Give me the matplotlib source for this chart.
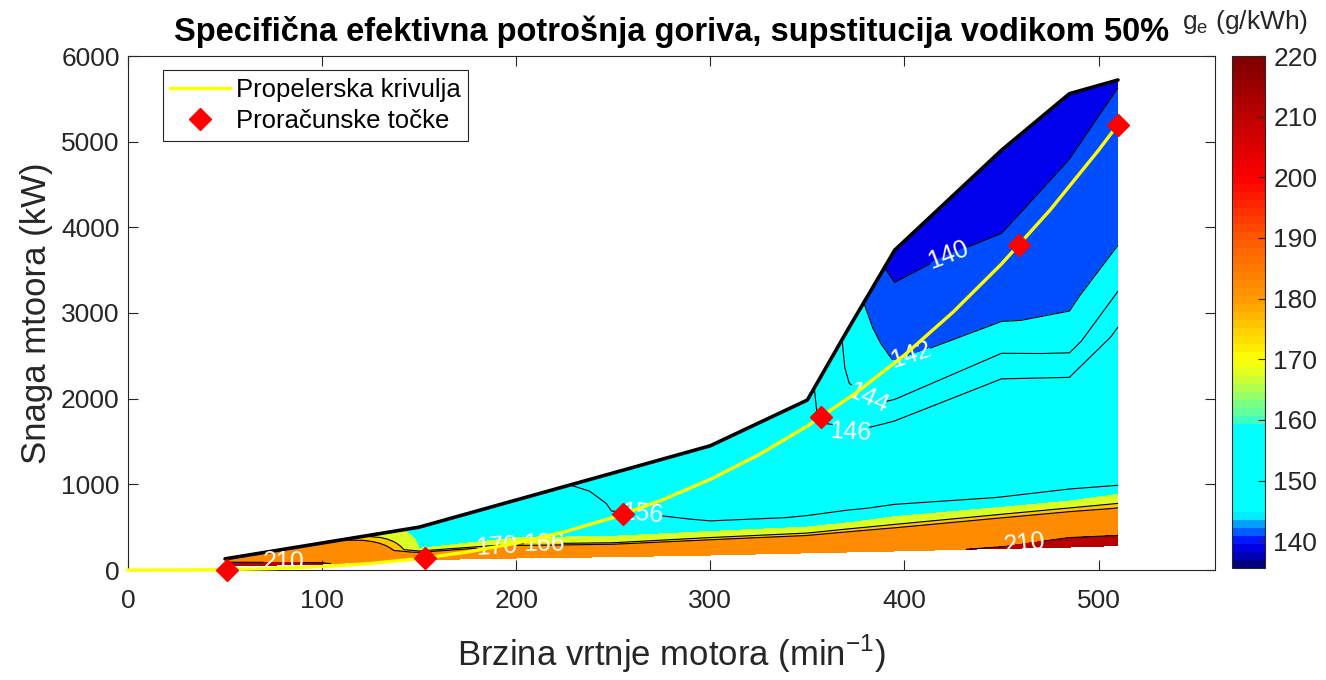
import numpy as np
import matplotlib
matplotlib.use("Agg")
import matplotlib.pyplot as plt
from matplotlib.colors import LinearSegmentedColormap, Normalize
from matplotlib.cm import ScalarMappable
from matplotlib.lines import Line2D

plt.rcParams['font.family'] = ['Liberation Sans', 'DejaVu Sans']
plt.rcParams['mathtext.fontset'] = 'custom'
plt.rcParams['mathtext.rm'] = 'Liberation Sans'

# ---------------- data ----------------
# engine speed columns of the map (min^-1)
n_cols = [50, 100, 150, 200, 250, 300, 350, 370, 395, 450, 485, 510]
# upper (max power) and lower limits of the map (kW)
p_max = [130, 315, 500, 817, 1133, 1450, 1984, 2773, 3734, 4900, 5560, 5720]
p_min = [45, 70, 120, 140, 155, 175, 200, 210, 222, 252, 268, 285]
# relative load rows between the lower and upper limit
load_frac = [0, .02, .04, .06, .08, .10, .13, .17, .25, .35, .45, .55, .65, .75, .85, 1.0]
# specific fuel consumption ge (g/kWh); rows = load_frac, columns = n_cols
ge = [
    [218.0, 211.0,  200.0, 203.0, 204.0,  205.0,  206.0,  207.0, 206.0,  212.0,  213.0,  214.0],
    [217.7, 210.7,  197.3, 199.9, 199.4,  199.9,  199.4,  198.8, 195.9,  202.0,  210.5,  211.0],
    [217.4, 210.35, 194.6, 196.8, 194.8,  194.8,  193.0,  190.4, 186.8,  190.6,  197.8,  200.4],
    [217.1, 209.9,  192.0, 193.8, 190.2,  189.7,  186.5,  182.1, 177.5,  179.2,  182.9,  185.4],
    [216.8, 209.3,  189.3, 190.7, 185.7,  184.6,  179.9,  173.9, 168.7,  168.2,  168.6,  170.4],
    [216.5, 208.5,  186.6, 187.6, 181.1,  179.5,  173.5,  167.0, 162.25, 160.5,  160.2,  162.1],
    [216.0, 207.3,  182.6, 183.0, 174.2,  171.85, 165.9,  160.2, 157.5,  155.9,  155.7,  155.9],
    [215.4, 205.7,  177.2, 176.8, 165.3,  164.0,  159.9,  156.7, 155.1,  154.6,  154.1,  154.8],
    [214.2, 202.5,  167.3, 165.1, 159.6,  157.0,  155.7,  153.9, 152.3,  151.9,  150.9,  152.4],
    [212.7, 198.6,  159.9, 159.9, 158.2,  155.4,  153.8,  151.1, 148.8,  148.5,  146.9,  149.5],
    [211.2, 194.6,  159.5, 159.4, 156.9,  154.4,  151.8,  148.2, 145.4,  145.2,  143.2,  146.5],
    [209.4, 190.6,  159.1, 159.0, 155.94, 153.45, 149.9,  145.8, 142.8,  142.2,  141.5,  143.9],
    [206.4, 186.6,  158.7, 158.6, 155.8,  152.5,  147.9,  145.0, 141.8,  141.2,  141.0,  141.9],
    [203.4, 182.7,  158.2, 158.1, 155.6,  151.5,  146.8,  144.2, 141.1,  140.35, 140.5,  141.4],
    [200.5, 178.7,  157.8, 157.7, 155.45, 150.5,  146.65, 143.9, 140.4,  139.5,  140.05, 140.8],
    [196.0, 172.8,  157.2, 157.0, 155.2,  149.0,  146.5,  143.7, 139.0,  138.3,  138.8,  139.9],
]

# propeller curve (min^-1, kW)
prop_n = [0, 25, 50, 75, 100, 125, 150, 175, 200, 225, 250, 275, 300, 325, 350,
          375, 400, 425, 450, 475, 500, 510]
prop_p = [0, 0.6, 4.9, 16.5, 39.2, 76.6, 132.3, 210.1, 313.6, 446.5, 612.5, 815.3,
          1058.4, 1345.7, 1680.7, 2067.2, 2508.8, 3009.3, 3572.1, 4201.1, 4900, 5200]
# calculation points
calc_n = [51, 153, 255, 357, 459, 510]
calc_p = [5, 140, 650, 1784, 3791, 5200]

fill_levels = [130, 140, 142, 144, 146, 156, 160, 166, 170, 210, 230]
fill_colors = [(0.0, 0.0, 0.93), (0.0, 0.30, 1.0), (0.0, 1.0, 1.0), (0.0, 1.0, 1.0),
               (0.0, 1.0, 1.0), (0.0, 1.0, 1.0), (0.85, 1.0, 0.15), (1.0, 0.78, 0.0),
               (1.0, 0.55, 0.0), (0.72, 0.0, 0.0)]
line_levels = [140, 142, 144, 146, 156, 166, 170, 210]
label_pos = {140: [(423, 3660)], 142: [(404, 2460)], 144: [(385, 2150)],
             146: [(372, 1610)], 156: [(265, 650)], 166: [(214, 322)],
             170: [(190, 290)], 210: [(80, 86), (462, 310)]}

cbar_vals = [135.6, 137.5, 139.2, 140.6, 142.0, 143.2, 144.0, 158.5, 160.0, 164.0,
             167.0, 170.0, 180.0, 190.0, 200.0, 220.0]
cbar_cols = [(0, 0, 0.5), (0, 0, 0.8), (0, 0, 1), (0, 0.3, 1), (0, 0.55, 1), (0, 0.85, 1),
             (0, 1, 1), (0, 1, 1), (0.3, 1, 0.7), (0.6, 1, 0.4), (0.85, 1, 0.15), (1, 1, 0),
             (1, 0.6, 0), (1, 0.35, 0), (1, 0, 0), (0.5, 0, 0)]

# ---------------- figure ----------------
W, H = 1326, 680
fig = plt.figure(figsize=(W / 100, H / 100), dpi=100)
ax = fig.add_axes([128 / W, 110 / H, 1087 / W, 514 / H])
cax = fig.add_axes([1232 / W, 112 / H, 33 / W, 512 / H])

frac = np.array(load_frac)[:, None]
pmin = np.array(p_min, float)[None, :]
pmax = np.array(p_max, float)[None, :]
X = np.tile(np.array(n_cols, float), (len(load_frac), 1))
Y = pmin + frac * (pmax - pmin)
Z = np.array(ge)

ax.contourf(X, Y, Z, levels=fill_levels, colors=fill_colors, zorder=1)
for lvl in line_levels:
    cs = ax.contour(X, Y, Z, levels=[lvl], colors='k', linewidths=0.8, zorder=2)
    if lvl in label_pos:
        cs.clabel(manual=label_pos[lvl], fmt='%d', colors='white', fontsize=18,
                  inline=True, inline_spacing=3)

ax.plot(n_cols, p_max, color='k', lw=2.6, zorder=3, solid_capstyle='round')
ax.plot(prop_n, prop_p, color=(1, 1, 0), lw=2.4, zorder=4, clip_on=False)
ax.plot(calc_n, calc_p, 'D', color='red', ms=11, ls='none', zorder=5, clip_on=False)

ax.set_xlim(0, 560)
ax.set_ylim(0, 6000)
ax.set_xticks(range(0, 501, 100))
ax.set_yticks(range(0, 6001, 1000))
ax.tick_params(direction='in', top=True, right=True, length=7, width=0.8,
               labelsize=19, color='0.15', labelcolor='0.15', pad=6)
ax.tick_params(axis='x', pad=14)
for s in ax.spines.values():
    s.set_color('0.15')
    s.set_linewidth(0.8)

ax.set_xlabel('Brzina vrtnje motora (min$^{\\mathregular{-1}}$)', fontsize=25,
              color='0.15', labelpad=14)
ax.set_ylabel('Snaga mtoora (kW)', fontsize=25, color='0.15', labelpad=6)
ax.set_title('Specifična efektivna potrošnja goriva, supstitucija vodikom 50%',
             fontsize=23.5, fontweight='bold', pad=11)

handles = [Line2D([], [], color=(1, 1, 0), lw=2.4),
           Line2D([], [], marker='D', color='red', ms=11, ls='none')]
leg = ax.legend(handles, ['Propelerska krivulja', 'Proračunske točke'],
                loc='upper left', bbox_to_anchor=(0.032, 0.973), borderaxespad=0,
                fontsize=18.5, fancybox=False, framealpha=1, edgecolor='0.15',
                handlelength=2.3, handletextpad=0.25, borderpad=0.3, labelspacing=0.3)
leg.get_frame().set_linewidth(0.8)

pos_c = [(v - cbar_vals[0]) / (cbar_vals[-1] - cbar_vals[0]) for v in cbar_vals]
cmap = LinearSegmentedColormap.from_list('ge', list(zip(pos_c, cbar_cols)), N=64)
sm = ScalarMappable(norm=Normalize(cbar_vals[0], cbar_vals[-1]), cmap=cmap)
cb = fig.colorbar(sm, cax=cax, ticks=range(140, 221, 10))
cax.tick_params(direction='in', length=5, width=0.8, labelsize=19, color='0.15',
                labelcolor='0.15', pad=6)
cb.outline.set_edgecolor('0.15')
cb.outline.set_linewidth(0.8)

fig.text(1245 / W, 1 - 29 / H, 'g$_\\mathregular{e}$ (g/kWh)', fontsize=19,
         ha='center', va='baseline', color='0.15')

fig.savefig('out.png', dpi=100)
